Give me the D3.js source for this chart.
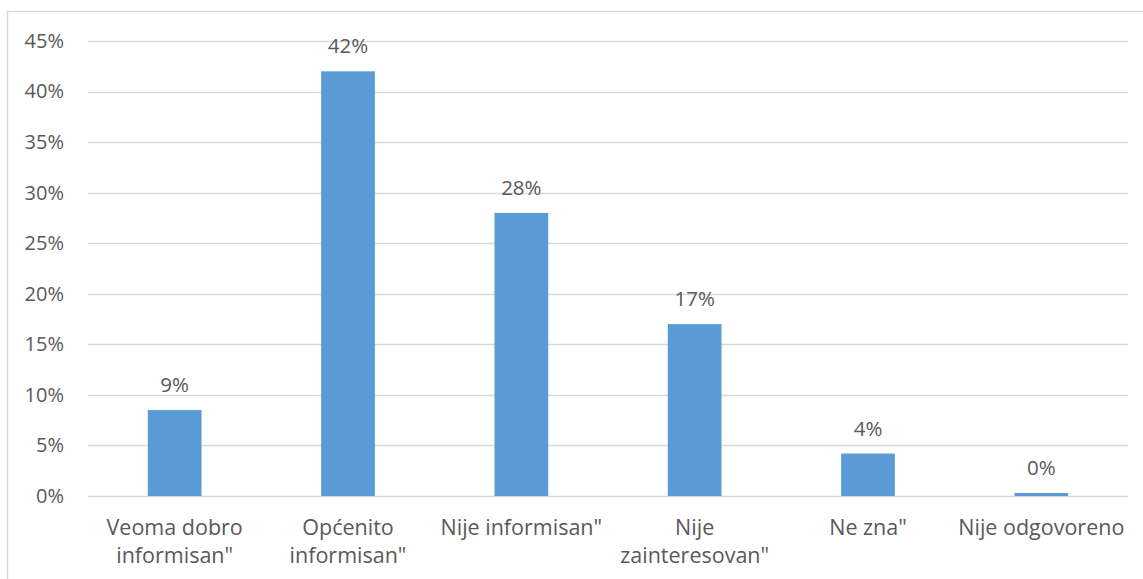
<!DOCTYPE html>
<html>
<head>
<meta charset="utf-8">
<script src="https://cdn.jsdelivr.net/npm/d3@7"></script>
<style>
  html, body { margin: 0; padding: 0; background: #fff; }
  svg { display: block; }
  text { font-family: "Open Sans", "Noto Sans", sans-serif; fill: #595959; }
</style>
</head>
<body>
<svg id="chart" width="1143" height="579"></svg>
<script>
const categories = [
  ["Veoma dobro", "informisan\""],
  ["Općenito", "informisan\""],
  ["Nije informisan\""],
  ["Nije", "zainteresovan\""],
  ["Ne zna\""],
  ["Nije odgovoreno"]
];
const values = [8.5, 42.0, 28.0, 17.0, 4.2, 0.3];
const valueLabels = ["9%", "42%", "28%", "17%", "4%", "0%"];
const yTicks = [0, 5, 10, 15, 20, 25, 30, 35, 40, 45];

const svg = d3.select("#chart");
const W = 1143, H = 579;
const plot = { left: 88, right: 1128, top: 41, bottom: 496 };

// chart border
svg.append("rect")
  .attr("x", 7.5).attr("y", 11.5)
  .attr("width", W + 10).attr("height", H + 10)
  .attr("fill", "none").attr("stroke", "#d9d9d9").attr("stroke-width", 1.5);

const idx = categories.map((d, i) => i);
const x = d3.scaleBand().domain(idx).range([plot.left, plot.right]).paddingInner(0.69).paddingOuter(0.345);
const y = d3.scaleLinear().domain([0, 45]).range([plot.bottom, plot.top]);

// gridlines
svg.append("g").selectAll("line").data(yTicks).join("line")
  .attr("x1", plot.left).attr("x2", plot.right)
  .attr("y1", d => Math.round(y(d)) + 0.5).attr("y2", d => Math.round(y(d)) + 0.5)
  .attr("stroke", "#d9d9d9").attr("stroke-width", 1.5);

// y axis labels
const yAxis = d3.axisLeft(y).tickValues(yTicks).tickFormat(d => d + "%").tickSize(0).tickPadding(0);
const gy = svg.append("g").attr("transform", `translate(64,0)`).call(yAxis);
gy.select(".domain").remove();
gy.selectAll("text").style("font-size", "20px").attr("fill", "#595959")
  .style("font-family", "'Open Sans', sans-serif");

// bars
svg.append("g").selectAll("rect").data(values).join("rect")
  .attr("x", (d, i) => x(i))
  .attr("width", x.bandwidth())
  .attr("y", d => y(d))
  .attr("height", d => plot.bottom - y(d))
  .attr("fill", "#5b9bd5");

// value labels
svg.append("g").selectAll("text").data(values).join("text")
  .attr("x", (d, i) => x(i) + x.bandwidth() / 2)
  .attr("y", d => y(d) - 18)
  .attr("text-anchor", "middle")
  .style("font-size", "20.5px")
  .text((d, i) => valueLabels[i]);

// category labels
const cat = svg.append("g").selectAll("text").data(categories).join("text")
  .attr("x", (d, i) => x(i) + x.bandwidth() / 2)
  .attr("y", 535)
  .attr("text-anchor", "middle")
  .style("font-size", "21.5px");
cat.each(function(d, i) {
  const t = d3.select(this);
  d.forEach((line, j) => {
    t.append("tspan")
      .attr("x", x(i) + x.bandwidth() / 2)
      .attr("dy", j === 0 ? 0 : 28)
      .text(line);
  });
});
</script>
</body>
</html>
